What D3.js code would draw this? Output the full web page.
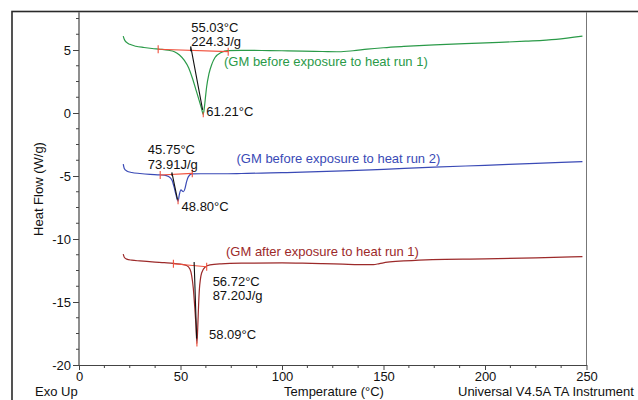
<!DOCTYPE html>
<html>
<head>
<meta charset="utf-8">
<script src="https://cdn.jsdelivr.net/npm/d3@7/dist/d3.min.js"></script>
<style>
  html, body { margin: 0; padding: 0; background: #fff; }
  svg { display: block; }
  text { font-family: "Liberation Sans", Arial, sans-serif; font-size: 13px; }
</style>
</head>
<body>
<svg id="chart" width="638" height="400"></svg>
<script>
// ---------- data ----------
const xTicks = [0, 50, 100, 150, 200, 250];
const yTicks = [-20, -15, -10, -5, 0, 5];

// GM before exposure to heat run 1 (green)
const run1T  = [21.8, 22.3, 23.3, 25, 28, 32, 36, 40, 44, 47, 49.5, 52, 54, 56, 57.5, 59, 60.3, 61.21, 61.8, 62.4, 62.9, 64, 65.5, 67, 70, 73.5, 80, 90, 100, 110, 120, 128, 135, 142, 150, 160, 175, 190, 207, 220, 235, 248];
const run1HF = [6.1, 5.85, 5.62, 5.45, 5.3, 5.2, 5.12, 5.06, 4.98, 4.86, 4.6, 4.15, 3.6, 2.7, 1.9, 1.1, 0.4, -0.1, 0.5, 1.4, 2.1, 3.1, 3.9, 4.4, 4.8, 4.95, 4.97, 4.96, 4.94, 4.91, 4.88, 4.86, 4.94, 5.07, 5.18, 5.28, 5.4, 5.5, 5.6, 5.7, 5.85, 6.1];

// GM before exposure to heat run 2 (blue)
const run2T  = [21.8, 22.3, 23.5, 26, 30, 35, 40, 43, 45, 46, 46.8, 47.8, 48.8, 49.4, 50.2, 51.4, 52.2, 53, 53.9, 55.5, 60, 70, 80, 90, 100, 110, 130, 150, 175, 200, 225, 248];
const run2HF = [-4.05, -4.4, -4.6, -4.72, -4.8, -4.87, -4.91, -4.97, -5.15, -5.4, -5.85, -6.5, -7.0, -6.5, -6.1, -6.25, -6.0, -5.45, -5.05, -4.83, -4.82, -4.82, -4.8, -4.77, -4.74, -4.7, -4.6, -4.47, -4.3, -4.15, -4.0, -3.86];

// GM after exposure to heat run 1 (dark red)
const run3T  = [21.8, 22.3, 23.5, 26, 30, 36, 42, 46.5, 50, 53, 54.7, 55.5, 56.3, 57.1, 57.6, 58.09, 58.5, 58.9, 59.3, 59.8, 60.4, 62, 64.5, 70, 80, 100, 110, 120, 130, 138, 145, 148, 152, 160, 174, 200, 225, 248];
const run3HF = [-11.2, -11.45, -11.6, -11.68, -11.74, -11.82, -11.88, -11.93, -12.0, -12.1, -12.4, -12.9, -13.9, -15.6, -16.8, -18.3, -17.0, -15.3, -14.0, -13.2, -12.7, -12.25, -12.06, -11.97, -11.92, -11.9, -11.92, -11.96, -12.0, -12.03, -12.03, -11.95, -11.84, -11.74, -11.63, -11.58, -11.5, -11.4];

const seriesNames  = ["(GM before exposure to heat run 1)", "(GM before exposure to heat run 2)", "(GM after exposure to heat run 1)"];
const seriesColors = ["#2a9a48", "#3a4ab6", "#9c2a2a"];

// integration baselines
const baseStartT  = [39, 40, 46.5];
const baseStartHF = [5.06, -4.92, -11.96];
const baseEndT    = [73.5, 55.8, 62.9];
const baseEndHF   = [4.87, -4.79, -12.2];

// onset analysis
const onsetT      = [55.03, 45.75, 56.72];
const onsetLowHF  = [4.9, -4.98, -12.1];
const onsetHighHF = [5.28, -4.72, -11.83];
const tanEndT     = [60.9, 48.55, 57.95];
const tanEndHF    = [0.25, -6.9, -17.9];
const enthalpy    = ["224.3J/g", "73.91J/g", "87.20J/g"];

// peaks
const peakT  = [61.21, 48.80, 58.09];
const peakHF = [-0.1, -7.0, -18.3];

// ---------- drawing ----------
const svg = d3.select("#chart");
const x = d3.scaleLinear().domain([0, 250]).range([79, 586.5]);
const y = d3.scaleLinear().domain([-20, 8]).range([365, 12.2]);

// outer frame
svg.append("rect").attr("x", 12).attr("y", 11.5).attr("width", 700).attr("height", 500)
  .attr("fill", "none").attr("stroke", "#2a2a2a").attr("stroke-width", 1.6);
// right border of plot
svg.append("line").attr("x1", x(250)).attr("x2", x(250)).attr("y1", y(8)).attr("y2", y(-20))
  .attr("stroke", "#777").attr("stroke-width", 1);

const fmt = d => String(d);

// minor ticks
const yMinor = d3.range(-20, 8.01, 1.25).filter(v => !yTicks.includes(v));
const xMinor = d3.range(0, 250.01, 12.5).filter(v => !xTicks.includes(v));

const gy = svg.append("g").attr("transform", `translate(${x(0)},0)`)
  .call(d3.axisLeft(y).tickValues(yTicks).tickFormat(fmt).tickSize(6).tickPadding(2).tickSizeOuter(0));
gy.append("g").selectAll("line").data(yMinor).join("line")
  .attr("x1", 0).attr("x2", -3).attr("y1", d => y(d)).attr("y2", d => y(d));

const gx = svg.append("g").attr("transform", `translate(0,${y(-20)})`)
  .call(d3.axisBottom(x).tickValues(xTicks).tickFormat(fmt).tickSize(5).tickPadding(2).tickSizeOuter(0));
gx.append("g").selectAll("line").data(xMinor).join("line")
  .attr("y1", 0).attr("y2", 3).attr("x1", d => x(d)).attr("x2", d => x(d));

[gx, gy].forEach(g => {
  g.select(".domain").attr("stroke", "#444").attr("stroke-width", 1.2);
  g.selectAll("line").attr("stroke", "#444");
  g.selectAll("text").attr("fill", "#111").style("font-size", "13px")
    .style("font-family", '"Liberation Sans", Arial, sans-serif');
});
gy.select(".domain").attr("d", `M0,${y(8)}V${y(-20)}`);

// axis titles
svg.append("text").attr("transform", `translate(43,189) rotate(-90)`)
  .attr("text-anchor", "middle").attr("fill", "#111").text("Heat Flow (W/g)");
svg.append("text").attr("x", 334).attr("y", 396).attr("text-anchor", "middle")
  .attr("fill", "#111").text("Temperature (°C)");
svg.append("text").attr("x", 35).attr("y", 396).attr("fill", "#111").text("Exo Up");
svg.append("text").attr("x", 458).attr("y", 396).attr("fill", "#111").text("Universal V4.5A TA Instrument");

// curves
const line = d3.line().x(d => x(d[0])).y(d => y(d[1])).curve(d3.curveMonotoneX);
const series = [
  d3.zip(run1T, run1HF),
  d3.zip(run2T, run2HF),
  d3.zip(run3T, run3HF)
];
series.forEach((s, i) => {
  svg.append("path").datum(s).attr("d", line).attr("fill", "none")
    .attr("stroke", seriesColors[i]).attr("stroke-width", 1.2);
});

// integration baselines
const red = "#f0503c";
baseStartT.forEach((t0, i) => {
  svg.append("line").attr("x1", x(t0)).attr("y1", y(baseStartHF[i]))
    .attr("x2", x(baseEndT[i])).attr("y2", y(baseEndHF[i]))
    .attr("stroke", red).attr("stroke-width", 1.1);
  [[t0, baseStartHF[i]], [baseEndT[i], baseEndHF[i]]].forEach(p => {
    svg.append("line").attr("x1", x(p[0])).attr("x2", x(p[0]))
      .attr("y1", y(p[1]) - 4).attr("y2", y(p[1]) + 4)
      .attr("stroke", red).attr("stroke-width", 1.1);
  });
});

// onset construction lines
onsetT.forEach((t, i) => {
  svg.append("path")
    .attr("d", `M${x(t)},${y(onsetLowHF[i])}L${x(t)},${y(onsetHighHF[i])}L${x(tanEndT[i])},${y(tanEndHF[i])}`)
    .attr("fill", "none").attr("stroke", "#111").attr("stroke-width", 1.1);
});

// peak markers
peakT.forEach((t, i) => {
  svg.append("line").attr("x1", x(t)).attr("x2", x(t))
    .attr("y1", y(peakHF[i]) - 2).attr("y2", y(peakHF[i]) + 3)
    .attr("stroke", red).attr("stroke-width", 1.1);
});

// annotation labels (pixel offsets from onset point): dx, dy line 1, dy line 2
const onsetLabelOffset = [[0.5, -14.5, -0.5], [-24, -18, -3.5], [18.5, 24, 38]];
onsetT.forEach((t, i) => {
  const o = onsetLabelOffset[i];
  const bx = x(t) + o[0], by = y(onsetHighHF[i]);
  svg.append("text").attr("x", bx).attr("y", by + o[1]).attr("fill", "#111").text(t.toFixed(2) + "°C");
  svg.append("text").attr("x", bx).attr("y", by + o[2]).attr("fill", "#111").text(enthalpy[i]);
});
const peakLabelOffset = [[3, 1.5], [3.5, 10], [12, -4.5]];
peakT.forEach((t, i) => {
  svg.append("text").attr("x", x(t) + peakLabelOffset[i][0]).attr("y", y(peakHF[i]) + peakLabelOffset[i][1])
    .attr("fill", "#111").text(t.toFixed(2) + "°C");
});

// series labels
const seriesLabelPos = [[224, 66], [236.5, 163], [226, 256]];
seriesNames.forEach((n, i) => {
  svg.append("text").attr("x", seriesLabelPos[i][0]).attr("y", seriesLabelPos[i][1])
    .attr("fill", seriesColors[i]).text(n);
});
</script>
</body>
</html>
